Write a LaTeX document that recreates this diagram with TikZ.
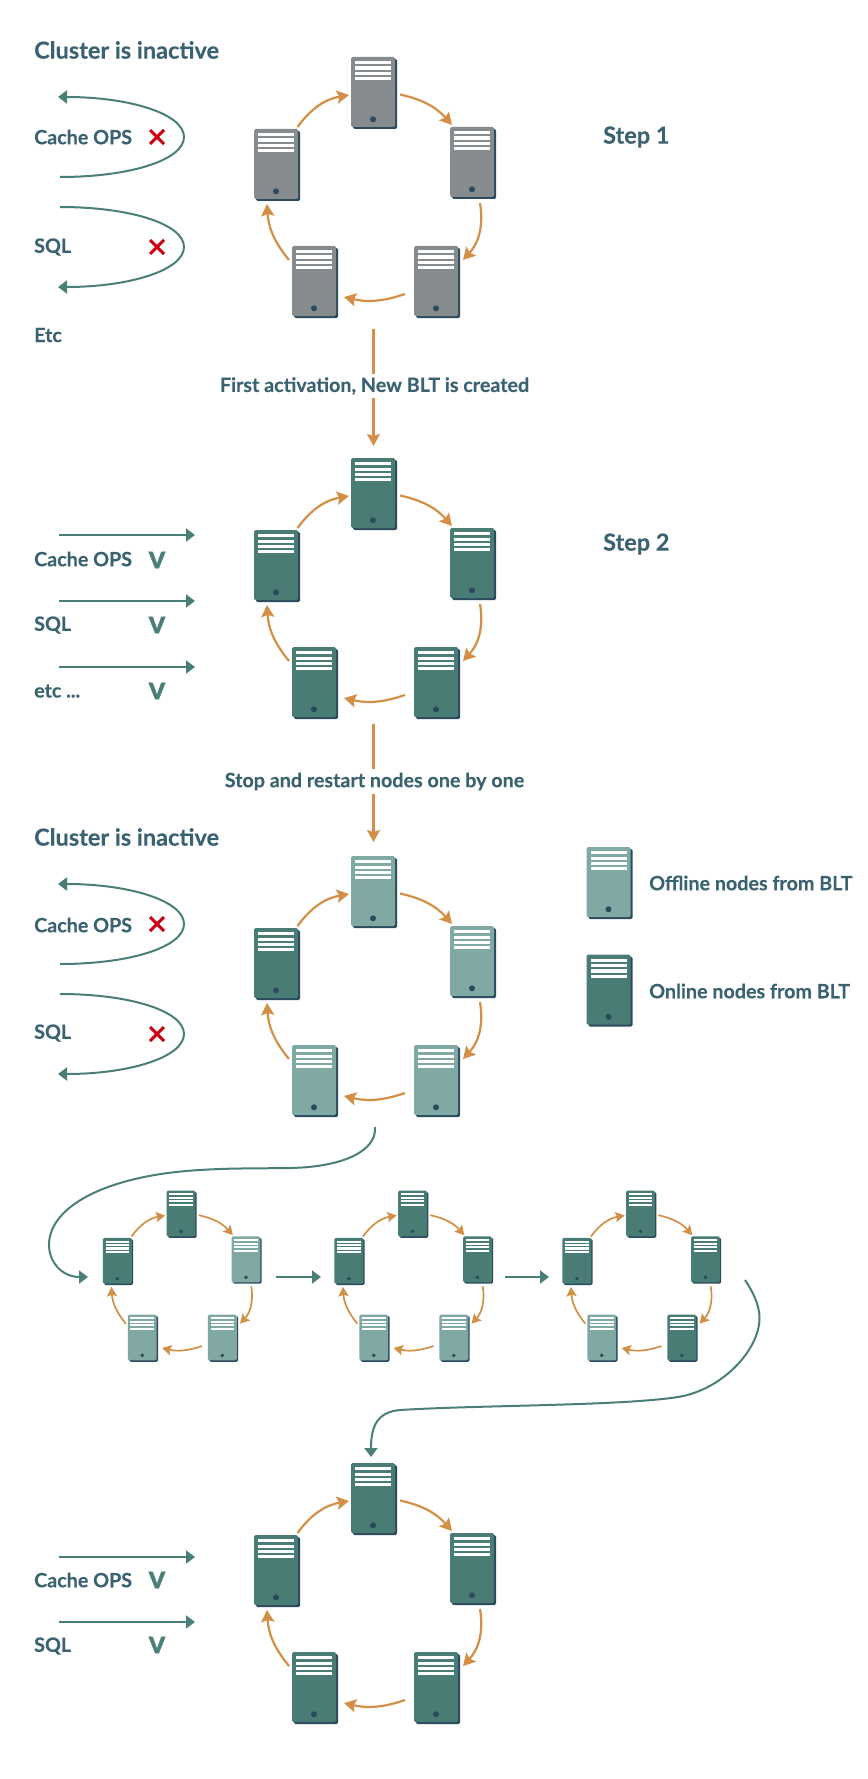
\documentclass[tikz,border=0pt]{standalone}
\usepackage{fontspec}
\setmainfont{Lato}[BoldFeatures={FakeBold=0.25}]
\newfontfamily\vfont{Lato}[UprightFont=* Bold,FakeBold=0.8]
\usetikzlibrary{arrows.meta,calc}
\definecolor{txt}{HTML}{3A6271}
\definecolor{grn}{HTML}{4A7F77}
\definecolor{org}{HTML}{D38F45}
\definecolor{gry}{HTML}{868B8D}
\definecolor{drk}{HTML}{487C74}
\definecolor{lgt}{HTML}{80A9A3}
\definecolor{shd}{HTML}{2B4A5E}
\definecolor{xred}{HTML}{CC0011}
\tikzset{
  x=1pt,y=-1pt,
  srvbody/.style={rectangle,rounded corners=1.5pt,inner sep=0pt,minimum width=44pt,minimum height=70pt,transform shape,draw=none},
  lab/.style={font=\fontsize{19.7}{22}\selectfont\bfseries,text=txt,anchor=west,inner sep=0pt},
  head/.style={font=\fontsize{23.5}{26}\selectfont\bfseries,text=txt,anchor=west,inner sep=0pt},
  vmark/.style={font=\fontsize{23}{26}\selectfont\bfseries,text=grn,inner sep=0pt},
  midlab/.style={font=\fontsize{19.7}{22}\selectfont\bfseries,text=txt,inner sep=0pt,minimum height=24pt},
  tline/.style={draw=grn,line width=2pt,-{Triangle[length=9pt,width=13pt]}},
  oline/.style={draw=org,line width=2.2pt},
  oarrow/.style={draw=org,line width=2.2pt,-{Stealth[length=12pt,width=13pt,inset=2pt]}},
  xmark/.style={draw=xred,line width=3pt},
}
\newcommand{\srv}[4]{%
  \fill[shd,rounded corners=1.5pt] (#2-20,#3-33) rectangle (#2+24,#3+37);
  \node[srvbody,fill=#4] (#1) at (#2,#3) {};
  \foreach \yy in {-29.2,-23.9,-18.6,-13.3}{
    \fill[white] (#2-18,#3+\yy-1.6) rectangle (#2+18,#3+\yy+1.6);}
  \fill[shd] (#2,#3+27.3) circle (3);
}
\newcommand{\arrowset}[1]{%
  \pgfmathsetmacro\al{5.5*\lw}\pgfmathsetmacro\aw{6*\lw}%
  \tikzset{ring arrow/.style={draw=org,line width=\lw pt,-{Stealth[length=\al pt,width=\aw pt,inset=\lw pt]}}}%
  \draw[ring arrow] ([shift={(21.5,-37)}]#1L.center) to[bend left=22] ([shift={(-24,3)}]#1T.center);
  \draw[ring arrow] ([shift={(27,2.5)}]#1T.center) to[bend left=18] ([shift={(-20,-37)}]#1R.center);
  \draw[ring arrow] ([shift={(8,41)}]#1R.center) to[bend left=26] ([shift={(27,-21)}]#1BR.center);
  \draw[ring arrow] ([shift={(-31,13)}]#1BR.center) to[bend left=16] ([shift={(30,16)}]#1BL.center);
  \draw[ring arrow] ([shift={(-25,-21)}]#1BL.center) to[bend left=18] ([shift={(-9,40)}]#1L.center);
}
% prefix, T-centre x, y, scale, colours BL T R BR L
\newcommand{\ringb}[9]{%
  \begin{scope}[shift={(#2,#3)},scale=#4]
    \srv{#1T}{0}{0}{#6}
    \srv{#1R}{99}{70}{#7}
    \srv{#1L}{-97}{72}{#9}
    \srv{#1BR}{63}{189}{#8}
    \srv{#1BL}{-59}{189}{#5}
    \arrowset{#1}
  \end{scope}}
\newcommand{\xcross}[2]{%
  \draw[xmark] (#1-7,#2-7) -- (#1+7,#2+7) (#1+7,#2-7) -- (#1-7,#2+7);}
\begin{document}
\begin{tikzpicture}
\useasboundingbox (0,0) rectangle (867,1779);
\def\lw{2.2}
\ringb{a}{373}{92}{1}{gry}{gry}{gry}{gry}{gry}
\ringb{b}{373}{493}{1}{drk}{drk}{drk}{drk}{drk}
\ringb{c}{373}{891}{1}{lgt}{lgt}{lgt}{lgt}{drk}
\ringb{g}{373}{1498}{1}{drk}{drk}{drk}{drk}{drk}
\def\lw{1.7}
\ringb{d}{181}{1213.5}{0.656}{lgt}{drk}{lgt}{lgt}{drk}
\ringb{e}{412.5}{1213.5}{0.656}{lgt}{drk}{drk}{lgt}{drk}
\ringb{f}{640.5}{1213.5}{0.656}{lgt}{drk}{drk}{drk}{drk}
% legend
\srv{legoff}{608.5}{882}{lgt}
\srv{legon}{608.5}{989.5}{drk}
\node[lab] (legofft) at (649,883) {Offline nodes from BLT};
\node[lab] (legont) at (649,991) {Online nodes from BLT};
\node[head] (s1) at (603,137) {Step 1};
\node[head] (s2) at (603,544) {Step 2};
% section 1
\node[head] (h1) at (34,50) {Cluster is inactive};
\node[lab] (c1) at (34,137) {Cache OPS};
\node[lab] (q1) at (34,247) {SQL};
\node[lab] (e1) at (34,335) {Etc};
\xcross{157}{137}
\xcross{157}{247}
\coordinate (u1s) at (60,177);
\coordinate (u1e) at (58,97);
\coordinate (u2s) at (60,207);
\coordinate (u2e) at (58,287);
\draw[tline] (u1s) .. controls (130,177) and (184,160) .. (184,137) .. controls (184,114) and (130,97) .. (u1e);
\draw[tline] (u2s) .. controls (130,207) and (184,224) .. (184,247) .. controls (184,270) and (130,287) .. (u2e);
% first activation
\coordinate (v1s) at (373.5,329);
\coordinate (v1e) at (373.5,446);
\node[midlab] (m1) at (374.5,386) {First activation, New BLT is created};
\draw[oline] (v1s) -- (v1s|-m1.north);
\draw[oarrow] (v1s|-m1.south) -- (v1e);
% section 2
\node[lab] (b1t) at (34,559) {Cache OPS};
\node[lab] (b2t) at (34,625) {SQL};
\node[lab] (b3t) at (34,691) {etc ...};
\node[vmark] (b1v) at (157,560) {\vfont V};
\node[vmark] (b2v) at (157,625) {\vfont V};
\node[vmark] (b3v) at (157,691) {\vfont V};
\foreach \n/\yy in {1/535,2/601,3/667}{
  \coordinate (bl\n) at (59,\yy);
  \coordinate (br\n) at (195,\yy);
  \draw[tline] (bl\n) -- (br\n);
}
% stop and restart
\coordinate (v2s) at (373.5,724);
\coordinate (v2e) at (373.5,842);
\node[midlab] (m2) at (374.5,781.5) {Stop and restart nodes one by one};
\draw[oline] (v2s) -- (v2s|-m2.north);
\draw[oarrow] (v2s|-m2.south) -- (v2e);
% section 3
\node[head] (h3) at (34,837) {Cluster is inactive};
\node[lab] (c3) at (34,925) {Cache OPS};
\node[lab] (q3) at (34,1033) {SQL};
\xcross{157}{924}
\xcross{157}{1034}
\begin{scope}[shift={(0,787)}]
\coordinate (w1s) at (60,177);
\coordinate (w1e) at (58,97);
\coordinate (w2s) at (60,207);
\coordinate (w2e) at (58,287);
\draw[tline] (w1s) .. controls (130,177) and (184,160) .. (184,137) .. controls (184,114) and (130,97) .. (w1e);
\draw[tline] (w2s) .. controls (130,207) and (184,224) .. (184,247) .. controls (184,270) and (130,287) .. (w2e);
\end{scope}
% long curves
\coordinate (l1s) at (375,1127);
\coordinate (l1e) at (88,1277);
\draw[tline] (l1s) .. controls (377,1150) and (345,1167) .. (290,1168) .. controls (260,1168.5) and (230,1168) .. (200,1170) .. controls (110,1175) and (49,1205) .. (49,1245) .. controls (49,1262) and (62,1277) .. (l1e);
\coordinate (a1s) at (276,1277);
\coordinate (a1e) at (321,1277);
\coordinate (a2s) at (505,1277);
\coordinate (a2e) at (549,1277);
\draw[tline] (a1s) -- (a1e);
\draw[tline] (a2s) -- (a2e);
\coordinate (l2s) at (745,1280);
\coordinate (l2e) at (371,1457);
\draw[tline] (l2s) .. controls (753,1292) and (759.5,1305) .. (759.5,1318) .. controls (759.5,1350) and (722,1390) .. (678,1397) .. controls (620,1406) and (480,1405) .. (400,1410) .. controls (378,1412) and (371,1425) .. (l2e);
% section 4
\foreach \n/\yy in {1/1557,2/1622}{
  \coordinate (gl\n) at (59,\yy);
  \coordinate (gr\n) at (195,\yy);
  \draw[tline] (gl\n) -- (gr\n);
}
\node[lab] (g1t) at (34,1580) {Cache OPS};
\node[lab] (g2t) at (34,1646) {SQL};
\node[vmark] (g1v) at (157,1580) {\vfont V};
\node[vmark] (g2v) at (157,1645) {\vfont V};
\end{tikzpicture}
\end{document}
